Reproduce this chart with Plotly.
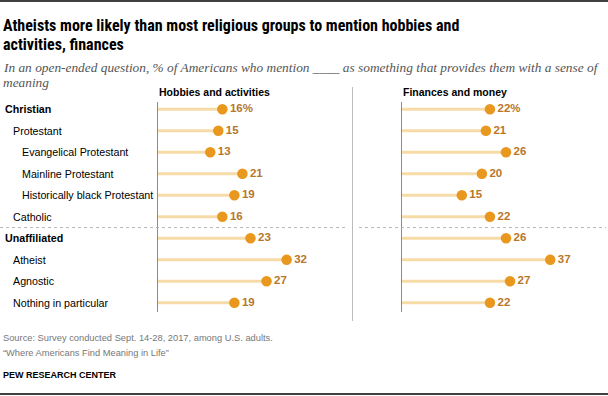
import plotly.graph_objects as go

W, H = 608, 396

categories = ["Christian", "Protestant", "Evangelical Protestant", "Mainline Protestant",
              "Historically black Protestant", "Catholic", "Unaffiliated", "Atheist",
              "Agnostic", "Nothing in particular"]
indent_level = [0, 1, 2, 2, 2, 1, 0, 1, 1, 1]
hobbies = [16, 15, 13, 21, 19, 16, 23, 32, 27, 19]
finances = [22, 21, 26, 20, 15, 22, 26, 37, 27, 22]
panel_titles = ["Hobbies and activities", "Finances and money"]

STEM = "#F7DBA6"
DOT = "#E8971F"
LAB = "#B8762B"
FONT = "Liberation Sans, Arial, sans-serif"


def px(x):
    return x / W


def py(y):
    return 1 - y / H


# pixel geometry
scale = 4.02           # px per percentage point
row0, rowstep = 109.3, 21.5
ytop, ybot = 102, 312
x1_0, x1_1 = 158, 340
x2_0, x2_1 = 401.5, 600

yr = [(ybot - row0) / rowstep, (ytop - row0) / rowstep]

fig = go.Figure()
idx = list(range(len(categories)))

for vals, xa, ya in [(hobbies, "x", "y"), (finances, "x2", "y2")]:
    sx, sy = [], []
    for i, v in zip(idx, vals):
        sx += [0, v, None]
        sy += [i, i, None]
    fig.add_trace(go.Scatter(x=sx, y=sy, mode="lines", xaxis=xa, yaxis=ya,
                             line=dict(color=STEM, width=3), hoverinfo="skip",
                             showlegend=False))
    texts = [f"{v}%" if i == 0 else str(v) for i, v in zip(idx, vals)]
    fig.add_trace(go.Scatter(x=vals, y=idx, mode="markers+text", xaxis=xa, yaxis=ya,
                             marker=dict(color=DOT, size=10.5),
                             text=texts, textposition="middle right",
                             textfont=dict(family=FONT, size=11.5, color=LAB, weight="bold"),
                             cliponaxis=False, showlegend=False))

ax_common = dict(showgrid=False, zeroline=False, showticklabels=False, ticks="", fixedrange=True)
fig.update_layout(
    width=W, height=H, margin=dict(l=0, r=0, t=0, b=0),
    paper_bgcolor="white", plot_bgcolor="white",
    xaxis=dict(domain=[px(x1_0), px(x1_1)], range=[0, (x1_1 - x1_0) / scale], anchor="y", **ax_common),
    xaxis2=dict(domain=[px(x2_0), px(x2_1)], range=[0, (x2_1 - x2_0) / scale], anchor="y2", **ax_common),
    yaxis=dict(domain=[py(ybot), py(ytop)], range=yr, anchor="x", showline=True,
               linecolor="#8c8c8c", linewidth=1, **ax_common),
    yaxis2=dict(domain=[py(ybot), py(ytop)], range=yr, anchor="x2", showline=True,
                linecolor="#8c8c8c", linewidth=1, **ax_common),
    showlegend=False,
)

shapes = []
shapes.append(dict(type="line", xref="paper", yref="paper", x0=0, x1=1, y0=py(1), y1=py(1),
                   line=dict(color="black", width=1.5)))
shapes.append(dict(type="line", xref="paper", yref="paper", x0=0, x1=1, y0=py(394), y1=py(394),
                   line=dict(color="black", width=1.5)))
shapes.append(dict(type="line", xref="paper", yref="paper", x0=px(352.5), x1=px(352.5),
                   y0=py(87), y1=py(321), line=dict(color="#bdbdbd", width=1)))
for a, b, yref in [(0, 347, "y"), (359, 606, "y2")]:
    shapes.append(dict(type="line", xref="paper", yref=yref, x0=px(a), x1=px(b), y0=5.5, y1=5.5,
                       line=dict(color="#b5b5b5", width=1, dash="dot")))
fig.update_layout(shapes=shapes)

ann = []


def text(x, y, s, size, color="black", bold=False, italic=False, family=FONT):
    ann.append(dict(x=px(x), y=py(y), xref="paper", yref="paper", text=s, showarrow=False,
                    xanchor="left", yanchor="middle",
                    font=dict(family=family, size=size, color=color,
                              weight="bold" if bold else "normal",
                              style="italic" if italic else "normal")))


TITLE_FONT = "Roboto Condensed, Liberation Sans, sans-serif"
text(1, 25, "Atheists more likely than most religious groups to mention hobbies and", 16, bold=True, family=TITLE_FONT)
text(1, 44.5, "activities, finances", 16, bold=True, family=TITLE_FONT)
SUB = "Liberation Serif, Georgia, serif"
text(1, 67, "In an open-ended question, % of Americans who mention ____ as something that provides them with a sense of", 13.35, color="#555555", italic=True, family=SUB)
text(1, 82, "meaning", 13.35, color="#555555", italic=True, family=SUB)

text(x1_0 - 1, 92, panel_titles[0], 10.5, bold=True)
text(x2_0 - 1, 92, panel_titles[1], 10.5, bold=True)

indent_px = [2.5, 11, 19.5]
for i, (c, lev) in enumerate(zip(categories, indent_level)):
    ann.append(dict(x=px(indent_px[lev]), y=i, xref="paper", yref="y", text=c, showarrow=False,
                    xanchor="left", yanchor="middle",
                    font=dict(family=FONT, size=10.7, color="black",
                              weight="bold" if lev == 0 else "normal")))

text(1, 338, "Source: Survey conducted Sept. 14-28, 2017, among U.S. adults.", 9.3, color="#777777")
text(1, 353, "\u201cWhere Americans Find Meaning in Life\u201d", 9.3, color="#777777")
text(1, 375, "PEW RESEARCH CENTER", 9, bold=True)

fig.update_layout(annotations=ann)
fig.write_html("out.html", config={"displayModeBar": False},
               post_script="document.body.style.margin='0';")
